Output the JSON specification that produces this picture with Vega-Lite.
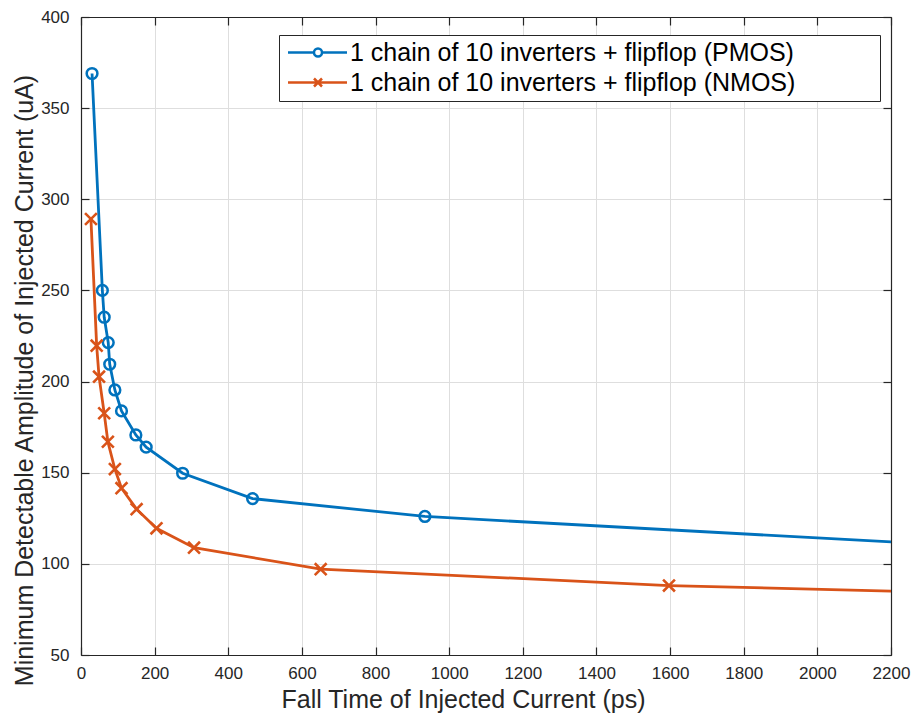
{
  "$schema": "https://vega.github.io/schema/vega-lite/v6.json",
  "width": 810,
  "height": 638,
  "autosize": {"type": "none"},
  "padding": {"left": 81, "top": 17, "right": 20, "bottom": 62},
  "background": "white",
  "config": {
    "font": "Liberation Sans",
    "view": {"stroke": null},
    "axis": {
      "domainColor": "#262626",
      "domainWidth": 1.2,
      "tickColor": "#262626",
      "tickWidth": 1.2,
      "tickSize": -8,
      "labelFlush": false,
      "labelColor": "#262626",
      "labelFont": "Liberation Sans",
      "labelFontSize": 17,
      "titleFont": "Liberation Sans",
      "titleFontSize": 25,
      "titleFontWeight": "normal",
      "titleColor": "#262626",
      "gridColor": "#dedede",
      "gridWidth": 1,
      "gridOpacity": 1
    }
  },
  "data": {
    "values": [
      {"series": "1 chain of 10 inverters + flipflop (PMOS)", "x": 30, "y": 369},
      {"series": "1 chain of 10 inverters + flipflop (PMOS)", "x": 58, "y": 250},
      {"series": "1 chain of 10 inverters + flipflop (PMOS)", "x": 63, "y": 235.3},
      {"series": "1 chain of 10 inverters + flipflop (PMOS)", "x": 74, "y": 221.4},
      {"series": "1 chain of 10 inverters + flipflop (PMOS)", "x": 78, "y": 209.5},
      {"series": "1 chain of 10 inverters + flipflop (PMOS)", "x": 92, "y": 195.4},
      {"series": "1 chain of 10 inverters + flipflop (PMOS)", "x": 110, "y": 183.9},
      {"series": "1 chain of 10 inverters + flipflop (PMOS)", "x": 149, "y": 170.7},
      {"series": "1 chain of 10 inverters + flipflop (PMOS)", "x": 177, "y": 164},
      {"series": "1 chain of 10 inverters + flipflop (PMOS)", "x": 276, "y": 149.7},
      {"series": "1 chain of 10 inverters + flipflop (PMOS)", "x": 466, "y": 135.8},
      {"series": "1 chain of 10 inverters + flipflop (PMOS)", "x": 934, "y": 126},
      {"series": "1 chain of 10 inverters + flipflop (PMOS)", "x": 2500, "y": 108.7},
      {"series": "1 chain of 10 inverters + flipflop (NMOS)", "x": 27, "y": 289.2},
      {"series": "1 chain of 10 inverters + flipflop (NMOS)", "x": 42.5, "y": 219.7},
      {"series": "1 chain of 10 inverters + flipflop (NMOS)", "x": 49, "y": 202.7},
      {"series": "1 chain of 10 inverters + flipflop (NMOS)", "x": 63, "y": 182.6},
      {"series": "1 chain of 10 inverters + flipflop (NMOS)", "x": 73, "y": 167},
      {"series": "1 chain of 10 inverters + flipflop (NMOS)", "x": 92, "y": 152},
      {"series": "1 chain of 10 inverters + flipflop (NMOS)", "x": 110, "y": 141.5},
      {"series": "1 chain of 10 inverters + flipflop (NMOS)", "x": 151, "y": 130},
      {"series": "1 chain of 10 inverters + flipflop (NMOS)", "x": 205, "y": 119.5},
      {"series": "1 chain of 10 inverters + flipflop (NMOS)", "x": 307, "y": 108.9},
      {"series": "1 chain of 10 inverters + flipflop (NMOS)", "x": 651, "y": 97.1},
      {"series": "1 chain of 10 inverters + flipflop (NMOS)", "x": 1597, "y": 88.1},
      {"series": "1 chain of 10 inverters + flipflop (NMOS)", "x": 2500, "y": 83.5}
    ]
  },
  "layer": [
    {
      "mark": {"type": "point", "filled": false, "size": 4, "strokeWidth": 2.5, "opacity": 0, "clip": true},
      "encoding": {
        "x": {"field": "x", "type": "quantitative", "scale": {"domain": [0, 2200], "nice": false, "zero": false}, "axis": null},
        "y": {"field": "y", "type": "quantitative", "scale": {"domain": [50, 400], "nice": false, "zero": false}, "axis": null},
        "color": {
          "field": "series", "type": "nominal",
          "scale": {
            "domain": ["1 chain of 10 inverters + flipflop (PMOS)", "1 chain of 10 inverters + flipflop (NMOS)"],
            "range": ["#0072BD", "#D95319"]
          },
          "legend": {
            "orient": "none",
            "legendX": 198,
            "legendY": 18,
            "title": null,
            "labelFont": "Liberation Sans",
            "labelFontSize": 25,
            "labelColor": "#000000",
            "labelLimit": 900,
            "labelOffset": 41,
            "padding": 5,
            "rowPadding": 4,
            "strokeColor": "#262626",
            "fillColor": "white",
            "symbolSize": 4,
            "symbolOpacity": 1,
            "symbolStrokeWidth": 2.5
          }
        },
        "shape": {
          "field": "series", "type": "nominal",
          "scale": {
            "domain": ["1 chain of 10 inverters + flipflop (PMOS)", "1 chain of 10 inverters + flipflop (NMOS)"],
            "range": [
              "M-8.5,0H17.5M25.5,0H50.5M25.5,0A4,4,0,1,1,17.5,0A4,4,0,1,1,25.5,0M573,0",
              "M-8.5,0H50.5M17.5,-4L25.5,4M17.5,4L25.5,-4M573,0"
            ]
          },
          "legend": {
            "orient": "none",
            "legendX": 198,
            "legendY": 18,
            "title": null,
            "labelFont": "Liberation Sans",
            "labelFontSize": 25,
            "labelColor": "#000000",
            "labelLimit": 900,
            "labelOffset": 41,
            "padding": 5,
            "rowPadding": 4,
            "strokeColor": "#262626",
            "fillColor": "white",
            "symbolSize": 4,
            "symbolOpacity": 1,
            "symbolStrokeWidth": 2.5
          }
        }
      }
    },
    {
      "mark": {"type": "line", "strokeWidth": 2.8, "clip": true},
      "encoding": {
        "x": {
          "field": "x", "type": "quantitative",
          "axis": {
            "orient": "bottom",
            "values": [0, 200, 400, 600, 800, 1000, 1200, 1400, 1600, 1800, 2000, 2200],
            "format": "d",
            "grid": true,
            "title": "Fall Time of Injected Current (ps)",
            "labelPadding": 18,
            "titleX": 382, "titleY": 52,
            "titleBaseline": "alphabetic", "titleAlign": "center"
          }
        },
        "y": {
          "field": "y", "type": "quantitative",
          "axis": {
            "orient": "left",
            "values": [50, 100, 150, 200, 250, 300, 350, 400],
            "format": "d",
            "grid": true,
            "title": "Minimum Detectable Amplitude of Injected Current (uA)",
            "labelPadding": 20,
            "titleX": -49, "titleY": 363, "titleAngle": 270,
            "titleBaseline": "alphabetic", "titleAlign": "center"
          }
        },
        "color": {"field": "series", "type": "nominal", "legend": null}
      }
    },
    {
      "transform": [{"filter": "indexof(datum.series, 'PMOS') >= 0"}],
      "mark": {"type": "point", "shape": "circle", "filled": false, "size": 115, "strokeWidth": 2.5, "clip": true, "opacity": 1},
      "encoding": {
        "x": {
          "field": "x", "type": "quantitative",
          "axis": {
            "orient": "top",
            "values": [0, 200, 400, 600, 800, 1000, 1200, 1400, 1600, 1800, 2000, 2200],
            "labels": false, "grid": false, "title": null
          }
        },
        "y": {
          "field": "y", "type": "quantitative",
          "axis": {
            "orient": "right",
            "values": [50, 100, 150, 200, 250, 300, 350, 400],
            "labels": false, "grid": false, "title": null
          }
        },
        "color": {"field": "series", "type": "nominal", "legend": null}
      }
    },
    {
      "transform": [{"filter": "indexof(datum.series, 'NMOS') >= 0"}],
      "mark": {"type": "point", "shape": "M-1,-1L1,1M-1,1L1,-1", "filled": false, "size": 140, "strokeWidth": 2.6, "clip": true, "opacity": 1},
      "encoding": {
        "x": {"field": "x", "type": "quantitative", "axis": null},
        "y": {"field": "y", "type": "quantitative", "axis": null},
        "color": {"field": "series", "type": "nominal", "legend": null}
      }
    }
  ],
  "resolve": {"axis": {"x": "independent", "y": "independent"}}
}
